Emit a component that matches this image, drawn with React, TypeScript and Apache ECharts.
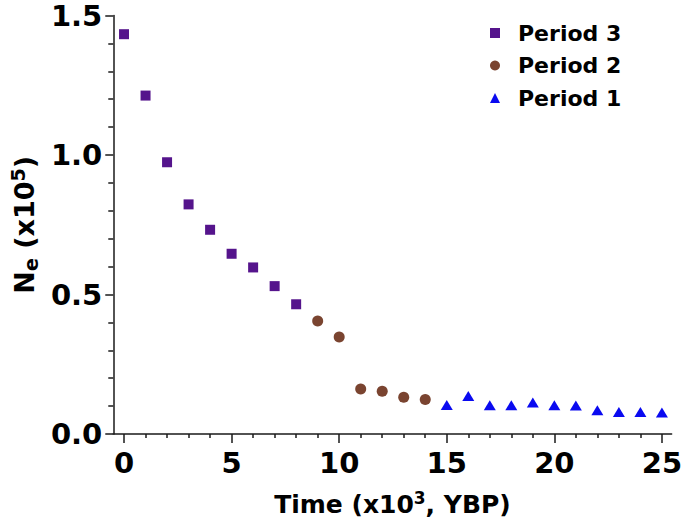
import React, { useEffect, useRef } from "react";
import * as echarts from "echarts";

const period3X = [0, 1, 2, 3, 4, 5, 6, 7, 8];
const period3Y = [1.433, 1.213, 0.974, 0.823, 0.732, 0.646, 0.597, 0.53, 0.465];
const period2X = [9, 10, 11, 12, 13, 14];
const period2Y = [0.405, 0.348, 0.161, 0.153, 0.132, 0.124];
const period1X = [15, 16, 17, 18, 19, 20, 21, 22, 23, 24, 25];
const period1Y = [0.104, 0.136, 0.103, 0.103, 0.113, 0.103, 0.102, 0.085, 0.079, 0.079, 0.077];
const xMajorTicks = [0, 5, 10, 15, 20, 25];
const xMinorTicks = [1, 2, 3, 4, 6, 7, 8, 9, 11, 12, 13, 14, 16, 17, 18, 19, 21, 22, 23, 24];
const seriesNames = ["Period 3", "Period 2", "Period 1"];

const FONT = "DejaVu Sans";

export default function App() {
  const ref = useRef<HTMLDivElement>(null);
  useEffect(() => {
    if (!ref.current) return;
    const chart = echarts.init(ref.current, null, { renderer: "svg" });
    const zip = (xs: number[], ys: number[]) => xs.map((x, i) => [x, ys[i]]);
    const axisLineStyle = { color: "#1a1a1a", width: 1.5 };
    chart.setOption({
      animation: false,
      backgroundColor: "#ffffff",
      grid: { left: 108, right: 9, top: 15.5, bottom: 91 },
      legend: {
        orient: "vertical",
        left: 485,
        top: 17,
        itemWidth: 10,
        itemHeight: 10,
        itemGap: 10.5,
        data: seriesNames,
        textStyle: {
          fontFamily: FONT,
          fontWeight: "bold",
          fontSize: 22,
          color: "#000",
          padding: [0, 0, 0, 13],
        },
      },
      xAxis: [
        {
          type: "value",
          min: -0.5,
          max: 25.45,
          position: "bottom",
          axisLine: { show: true, onZero: false, lineStyle: axisLineStyle },
          axisTick: { show: true, length: 9, customValues: xMajorTicks, lineStyle: axisLineStyle },
          axisLabel: {
            customValues: xMajorTicks,
            margin: 14,
            fontFamily: FONT,
            fontWeight: "bold",
            fontSize: 29,
            color: "#000",
          },
          splitLine: { show: false },
          name: "{a|Time (x10}{s|3}{a|, YBP)}",
          nameLocation: "middle",
          nameGap: 55,
          nameTextStyle: {
            rich: {
              a: { fontFamily: FONT, fontWeight: "bold", fontSize: 25, color: "#000" },
              s: { fontFamily: FONT, fontWeight: "bold", fontSize: 17, color: "#000", padding: [0, 0, 14, 0] },
            },
          },
        },
        {
          type: "value",
          min: -0.5,
          max: 25.45,
          position: "bottom",
          axisLine: { show: false },
          axisTick: { show: true, length: 4, customValues: xMinorTicks, lineStyle: axisLineStyle },
          axisLabel: { show: false },
          splitLine: { show: false },
        },
      ],
      yAxis: {
        type: "value",
        min: 0,
        max: 1.5,
        interval: 0.5,
        axisLine: { show: true, onZero: false, lineStyle: axisLineStyle },
        axisTick: { show: true, length: 8, lineStyle: axisLineStyle },
        minorTick: { show: true, splitNumber: 5, length: 5, lineStyle: axisLineStyle },
        axisLabel: {
          margin: 11,
          fontFamily: FONT,
          fontWeight: "bold",
          fontSize: 29,
          color: "#000",
          formatter: (v: number) => v.toFixed(1),
        },
        splitLine: { show: false },
        minorSplitLine: { show: false },
        name: "{a|N}{b|e}{a| (x10}{s|5}{a|)}",
        nameLocation: "middle",
        nameGap: 66,
        nameTextStyle: {
          rich: {
            a: { fontFamily: FONT, fontWeight: "bold", fontSize: 27, color: "#000" },
            b: { fontFamily: FONT, fontWeight: "bold", fontSize: 19, color: "#000", padding: [12, 0, 0, 0] },
            s: { fontFamily: FONT, fontWeight: "bold", fontSize: 19, color: "#000", padding: [0, 0, 14, 0] },
          },
        },
      },
      series: [
        {
          name: seriesNames[0],
          type: "scatter",
          symbol: "rect",
          symbolSize: 10,
          itemStyle: { color: "#55148c", opacity: 1 },
          emphasis: { disabled: true },
          data: zip(period3X, period3Y),
        },
        {
          name: seriesNames[1],
          type: "scatter",
          symbol: "circle",
          symbolSize: 11,
          itemStyle: { color: "#7a4430", opacity: 1 },
          emphasis: { disabled: true },
          data: zip(period2X, period2Y),
        },
        {
          name: seriesNames[2],
          type: "scatter",
          symbol: "triangle",
          symbolSize: [12, 10],
          itemStyle: { color: "#0a0af0", opacity: 1 },
          emphasis: { disabled: true },
          data: zip(period1X, period1Y),
        },
      ],
    });
    return () => chart.dispose();
  }, []);
  return (
    <div
      ref={ref}
      style={{ position: "fixed", left: 0, top: 0, width: 685, height: 525, background: "#fff" }}
    />
  );
}
